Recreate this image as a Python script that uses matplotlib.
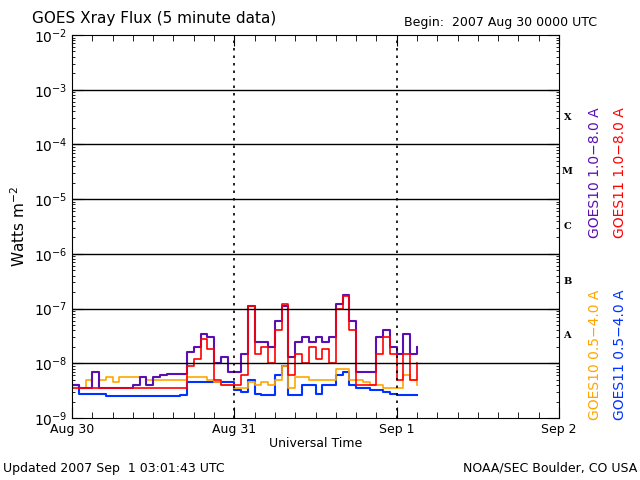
import matplotlib
matplotlib.use("Agg")
import matplotlib.pyplot as plt
import numpy as np

hours = list(range(52))
g10_long = [4,3.5,3.5,7,3.5,3.5,3.5,3.5,3.5,4,5.5,4,5.5,6,6.5,6.5,6.5,16,20,34,30,10,13,7,7,15,110,25,25,20,60,110,13,25,30,25,30,25,30,120,180,60,7,7,7,30,40,20,15,35,15,20]
g11_long = [3.5,3.5,3.5,3.5,3.5,3.5,3.5,3.5,3.5,3.5,3.5,3.5,3.5,3.5,3.5,3.5,3.5,9,12,28,18,5,4,4,4,6,110,15,20,10,40,120,6,15,10,20,12,18,10,100,170,40,4,4,4,15,30,15,5,15,5,10]
g10_short = [4,3.5,5,7,5,5.5,4.5,5.5,5.5,5.5,5.5,5,5,5,5,5,5,5.5,5.5,5.5,5,4.5,4,4,3.5,3.5,4.5,4,4.5,4,5,9,3.5,5.5,5.5,5,5,5,5,8,8,5,5,4.5,4,4,3.5,3.5,3.5,6,5,4]
g11_short = [4,2.8,2.7,2.7,2.7,2.5,2.5,2.5,2.5,2.5,2.5,2.5,2.5,2.5,2.5,2.5,2.6,4.5,4.5,4.5,4.5,4.5,4.5,4.5,3.2,3,5,2.8,2.6,2.6,6,9,2.6,2.6,4,4,2.7,4,4,6,7,4,3.5,3.5,3.3,3.3,3,2.8,2.6,2.6,2.6,2.6]
day_labels = ["Aug 30", "Aug 31", "Sep 1", "Sep 2"]
class_labels = ["A", "B", "C", "M", "X"]

fig = plt.figure(figsize=(6.4, 4.8), dpi=100)
ax = fig.add_axes([72/640, 1-418/480, (559-72)/640, (418-35)/480])
t = np.array(hours, dtype=float)
s = 1e-9
ax.step(t, np.array(g11_short)*s, where="post", color="#0033ff", lw=1.5)
ax.step(t, np.array(g10_short)*s, where="post", color="#ffa500", lw=1.2)
ax.step(t, np.array(g10_long)*s, where="post", color="#5a0fb4", lw=1.5)
ax.step(t, np.array(g11_long)*s, where="post", color="#ff0000", lw=1.2)
ax.set_yscale("log")
ax.set_ylim(1e-9, 1e-2)
ax.set_xlim(0, 72)
for e in range(-8, -2):
    ax.axhline(10.0**e, color="black", lw=1)
for d in (24, 48):
    ax.axvline(d, color="black", lw=1.2, ls=(0, (1.5, 3)))
ax.set_xticks([0, 24, 48, 72])
ax.set_xticklabels(day_labels)
ax.set_xticks(np.arange(0, 73, 3), minor=True)
ax.tick_params(axis="x", which="major", length=8, direction="in", top=True, labelsize=9)
ax.tick_params(axis="x", which="minor", length=4, direction="in", top=True)
ax.tick_params(axis="y", which="both", direction="in", right=True, labelsize=10)
ax.tick_params(axis="y", which="major", length=8)
ax.set_xlabel("Universal Time", fontsize=9, labelpad=1)
ax.set_ylabel("Watts m$^{-2}$", fontsize=11)
for i, lab in enumerate(class_labels):
    ax.text(1.017, (i*1 + 1.5)/7, lab, transform=ax.transAxes, fontsize=7,
            fontweight="bold", family="DejaVu Serif", va="center", ha="center")
fig.text(0.05, 0.962, "GOES Xray Flux (5 minute data)", fontsize=11, va="center")
fig.text(0.632, 0.954, "Begin:  2007 Aug 30 0000 UTC", fontsize=9, va="center")
fig.text(0.004, 0.024, "Updated 2007 Sep  1 03:01:43 UTC", fontsize=9, va="center")
fig.text(0.996, 0.024, "NOAA/SEC Boulder, CO USA", fontsize=9, va="center", ha="right")
fig.text(0.930, 0.64, "GOES10 1.0\u22128.0 A", color="#5a0fb4", rotation=90, fontsize=10, ha="center", va="center")
fig.text(0.968, 0.64, "GOES11 1.0\u22128.0 A", color="#ff0000", rotation=90, fontsize=10, ha="center", va="center")
fig.text(0.930, 0.26, "GOES10 0.5\u22124.0 A", color="#ffa500", rotation=90, fontsize=10, ha="center", va="center")
fig.text(0.968, 0.26, "GOES11 0.5\u22124.0 A", color="#0033ff", rotation=90, fontsize=10, ha="center", va="center")
fig.savefig("out.png", dpi=100)
